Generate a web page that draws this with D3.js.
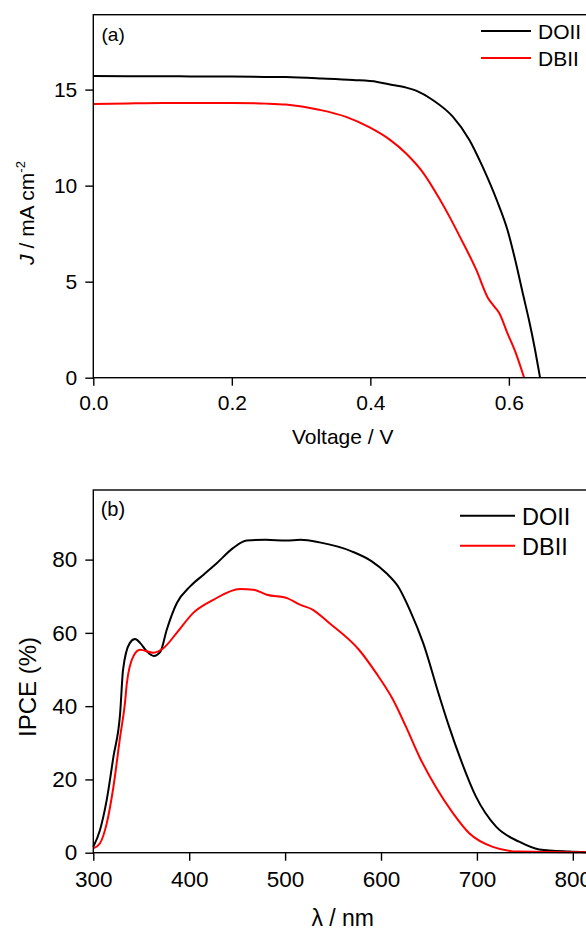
<!DOCTYPE html>
<html>
<head>
<meta charset="utf-8">
<script src="https://cdn.jsdelivr.net/npm/d3@7"></script>
<style>
    body { margin: 0; background: #fff; }
    svg { display: block; font-family: "Liberation Sans", Arial, sans-serif; }
    .axis .domain { display: none; }
    .axis line { stroke: #000; stroke-width: 1.4; }
    .axis text { fill: #000; }
</style>
</head>
<body>
<svg id="fig"></svg>
<script>
"use strict";

// (a) J-V curves
var doiiV = [0, 0.05, 0.1, 0.15, 0.2, 0.25, 0.278, 0.33, 0.375, 0.41, 0.432, 0.45, 0.466, 0.49, 0.519, 0.543, 0.562, 0.583, 0.598, 0.61, 0.621, 0.629, 0.637, 0.645];
var doiiJ = [15.71, 15.7, 15.7, 15.68, 15.68, 15.66, 15.65, 15.58, 15.5, 15.4, 15.24, 15.12, 14.95, 14.46, 13.59, 12.38, 10.99, 9.2, 7.69, 6.0, 4.25, 3.0, 1.6, 0];
var dbiiV = [0, 0.05, 0.1, 0.15, 0.2, 0.25, 0.278, 0.326, 0.365, 0.399, 0.427, 0.452, 0.476, 0.5, 0.514, 0.529, 0.553, 0.57, 0.579, 0.586, 0.598, 0.61, 0.622];
var dbiiJ = [14.25, 14.28, 14.3, 14.3, 14.3, 14.27, 14.22, 13.95, 13.58, 13.03, 12.42, 11.66, 10.68, 9.3, 8.4, 7.36, 5.61, 4.14, 3.7, 3.37, 2.31, 1.28, 0];

// (b) IPCE spectra
var doiiLambda = [300, 307, 314, 321, 328, 331, 338, 343.5, 349, 356, 363, 370, 376.5, 387, 401, 415, 429, 446, 460, 480, 501, 516, 536, 570, 590, 606, 618, 630, 644, 661, 671, 682, 699, 720, 744, 765, 796, 820];
var doiiIpce = [1.6, 6.2, 14.4, 26.2, 38.1, 49.9, 57.2, 58.3, 57.2, 54.9, 53.7, 54.9, 60.8, 68.1, 72.7, 75.9, 79.1, 83.2, 85.2, 85.4, 85.2, 85.4, 84.7, 82.2, 79.6, 76.2, 72.6, 66.3, 57.2, 42.6, 34.4, 26.2, 15.3, 7.1, 3.0, 0.9, 0.3, 0.1];
var dbiiLambda = [300, 307, 314, 321, 328, 333, 335, 341.7, 348.7, 362.6, 373, 387, 404, 425, 453, 467, 481, 502, 515.5, 529, 546, 577, 595, 612, 626, 640, 657, 675, 692, 716.5, 744, 820];
var dbiiIpce = [1.2, 2.6, 8.0, 18.0, 31.7, 40.8, 46.3, 53.6, 55.4, 54.6, 55.8, 60, 65.4, 69, 72, 71.8, 70.4, 69.5, 67.7, 66.3, 62.7, 55.4, 49, 42, 34.4, 26.2, 18, 10.8, 5.3, 1.6, 0.3, 0.1];

var seriesNames = ["DOII", "DBII"];
var seriesColors = ["#000000", "#ff0000"];

var jTicks = [0, 5, 10, 15],
    vTicks = [0, 0.2, 0.4, 0.6],
    ipceTicks = [0, 20, 40, 60, 80],
    lambdaTicks = [300, 400, 500, 600, 700, 800];

var Width = 586,
    Height = 930,
    left = 93.3,
    right = 592,
    tickLen = 8;

var svg = d3.select("#fig")
    .attr("width", Width)
    .attr("height", Height);

function zip(xs, ys) {
    return xs.map(function (x, i) { return [x, ys[i]]; });
}

function panel(opts) {
    var x = d3.scaleLinear().domain(opts.xDomain).range([left, right]);
    var y = d3.scaleLinear().domain(opts.yDomain).range([opts.bottom, opts.top]);
    var g = svg.append("g");

    var line = d3.line()
        .curve(d3.curveMonotoneX)
        .x(function (d) { return x(d[0]); })
        .y(function (d) { return y(d[1]); });

    g.selectAll(".series")
        .data(opts.series)
        .enter()
        .append("path")
        .attr("class", "series")
        .attr("d", function (d) { return line(d); })
        .attr("fill", "none")
        .attr("stroke", function (d, i) { return seriesColors[i]; })
        .attr("stroke-width", 2)
        .attr("stroke-linejoin", "round");

    // frame
    g.append("rect")
        .attr("x", left)
        .attr("y", opts.top)
        .attr("width", right - left)
        .attr("height", opts.bottom - opts.top)
        .attr("fill", "none")
        .attr("stroke", "#000")
        .attr("stroke-width", 1.4);

    g.append("g")
        .attr("class", "axis")
        .attr("transform", "translate(0," + opts.bottom + ")")
        .call(d3.axisBottom(x)
            .tickValues(opts.xTicks)
            .tickFormat(opts.xFormat)
            .tickSize(tickLen)
            .tickPadding(opts.xPad))
        .attr("font-size", opts.font)
        .attr("font-family", null);

    g.append("g")
        .attr("class", "axis")
        .attr("transform", "translate(" + left + ",0)")
        .call(d3.axisLeft(y)
            .tickValues(opts.yTicks)
            .tickSize(tickLen)
            .tickPadding(8))
        .attr("font-size", opts.font)
        .attr("font-family", null);

    // panel tag
    g.append("text")
        .attr("x", opts.tagX)
        .attr("y", opts.tagY)
        .attr("font-size", opts.tagFont)
        .text(opts.tag);

    // legend
    var leg = g.selectAll(".leg")
        .data(seriesNames)
        .enter()
        .append("g")
        .attr("class", "leg");

    leg.append("line")
        .attr("x1", opts.legX1)
        .attr("x2", opts.legX2)
        .attr("y1", function (d, i) { return opts.legY[i]; })
        .attr("y2", function (d, i) { return opts.legY[i]; })
        .attr("stroke", function (d, i) { return seriesColors[i]; })
        .attr("stroke-width", 2);

    leg.append("text")
        .attr("x", opts.legText)
        .attr("y", function (d, i) { return opts.legY[i] + opts.legDy; })
        .attr("font-size", opts.legFont)
        .text(function (d) { return d; });

    return g;
}

var ga = panel({
    xDomain: [0, 0.72], yDomain: [0, 18.9],
    top: 14.7, bottom: 377.7,
    series: [zip(doiiV, doiiJ), zip(dbiiV, dbiiJ)],
    xTicks: vTicks, yTicks: jTicks,
    xFormat: d3.format(".1f"), xPad: 9,
    font: 21,
    tag: "(a)", tagX: 101.5, tagY: 41, tagFont: 19,
    legX1: 481, legX2: 531, legY: [31, 58], legText: 538, legDy: 8, legFont: 21
});

ga.append("text")
    .attr("x", 342.7)
    .attr("y", 444)
    .attr("text-anchor", "middle")
    .attr("font-size", 21)
    .text("Voltage / V");

var jLabel = ga.append("text")
    .attr("transform", "translate(34,213) rotate(-90)")
    .attr("text-anchor", "middle")
    .attr("font-size", 21);
jLabel.append("tspan").attr("font-style", "italic").text("J");
jLabel.append("tspan").text(" / mA cm");
jLabel.append("tspan").attr("font-size", 13).attr("dy", -9).text("-2");

var gb = panel({
    xDomain: [300, 820], yDomain: [0, 99],
    top: 490, bottom: 852.7,
    series: [zip(doiiLambda, doiiIpce), zip(dbiiLambda, dbiiIpce)],
    xTicks: lambdaTicks, yTicks: ipceTicks,
    xFormat: d3.format("d"), xPad: 10,
    font: 22.5,
    tag: "(b)", tagX: 100.7, tagY: 515.7, tagFont: 20,
    legX1: 460, legX2: 515, legY: [515.7, 545.7], legText: 522, legDy: 9, legFont: 23.5
});

gb.append("text")
    .attr("x", 342.7)
    .attr("y", 926)
    .attr("text-anchor", "middle")
    .attr("font-size", 23)
    .text("λ / nm");

gb.append("text")
    .attr("transform", "translate(36,687) rotate(-90)")
    .attr("text-anchor", "middle")
    .attr("font-size", 24)
    .text("IPCE (%)");
</script>
</body>
</html>
